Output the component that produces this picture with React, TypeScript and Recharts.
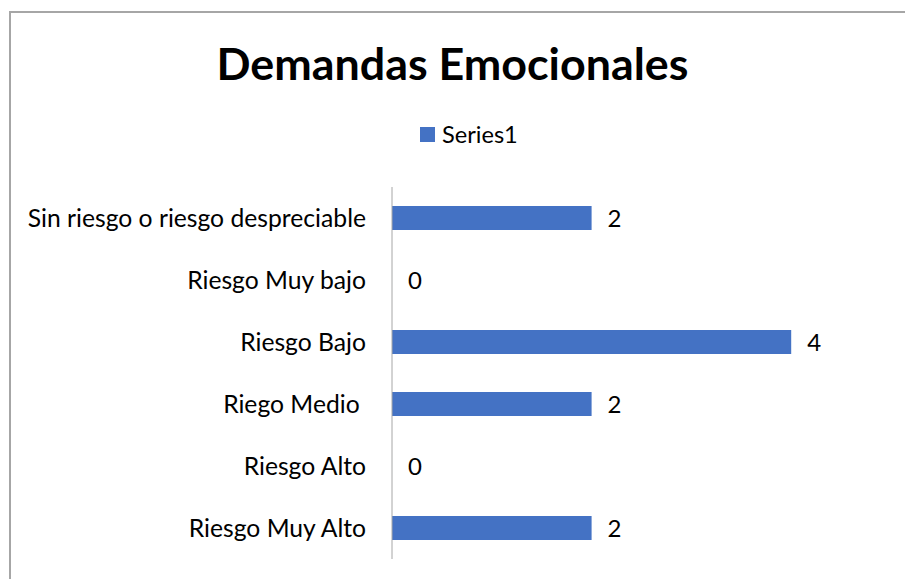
import React from "react";
import { BarChart, Bar, XAxis, YAxis, LabelList } from "recharts";

const categories = [
  "Sin riesgo o riesgo despreciable",
  "Riesgo Muy bajo",
  "Riesgo Bajo",
  "Riego Medio\u00A0",
  "Riesgo Alto",
  "Riesgo Muy Alto",
];
const series1 = [2, 0, 4, 2, 0, 2];
const seriesName = "Series1";
const title = "Demandas Emocionales";

const data = categories.map((c, i) => ({ name: c, value: series1[i] }));

const FONT = "Lato, 'Open Sans', sans-serif";

const renderValue = (props: any) => {
  const { x, y, width, height, value } = props;
  return (
    <text
      x={Number(x) + Number(width) + 16}
      y={Number(y) + Number(height) / 2}
      dy="0.36em"
      textAnchor="start"
      fill="#000"
      fontSize={24}
      fontFamily={FONT}
    >
      {value}
    </text>
  );
};

export default function App() {
  return (
    <div
      style={{
        position: "fixed",
        left: 0,
        top: 0,
        width: 905,
        height: 579,
        fontFamily: FONT,
        overflow: "hidden",
        background: "#fff",
      }}
    >
      <div
        style={{
          position: "absolute",
          left: 9,
          top: 11,
          width: 1000,
          height: 1000,
          borderLeft: "2px solid #a6a6a6",
          borderTop: "2px solid #a6a6a6",
        }}
      />
      <div
        style={{
          position: "absolute",
          left: 0,
          width: 905,
          top: 36,
          textAlign: "center",
          fontSize: 44.8,
          fontWeight: 700,
          color: "#000",
          fontFamily: FONT,
          lineHeight: "normal",
        }}
      >
        {title}
      </div>
      <div
        style={{
          position: "absolute",
          left: 420,
          top: 120,
          display: "flex",
          alignItems: "center",
          fontSize: 23.6,
          color: "#000",
          lineHeight: "28px",
        }}
      >
        <div style={{ width: 15, height: 15, background: "#4472C4", marginRight: 7 }} />
        <span>{seriesName}</span>
      </div>
      <div style={{ position: "absolute", left: 0, top: 0 }}>
        <BarChart
          width={905}
          height={579}
          data={data}
          layout="vertical"
          margin={{ top: 187, right: 14, bottom: 20, left: 0 }}
        >
          <XAxis type="number" domain={[0, 5]} hide />
          <YAxis
            type="category"
            dataKey="name"
            width={392}
            tickLine={false}
            axisLine={{ stroke: "#a6a6a6", strokeWidth: 1 }}
            tickSize={0}
            tickMargin={26}
            tick={{ fill: "#000", fontSize: 24.7, fontFamily: FONT }}
            interval={0}
          />
          <Bar
            dataKey="value"
            fill="#4472C4"
            barSize={24}
            minPointSize={(v: number) => (v === 0 ? 0.01 : 0)}
            isAnimationActive={false}
          >
            <LabelList dataKey="value" content={renderValue} />
          </Bar>
        </BarChart>
      </div>
    </div>
  );
}
